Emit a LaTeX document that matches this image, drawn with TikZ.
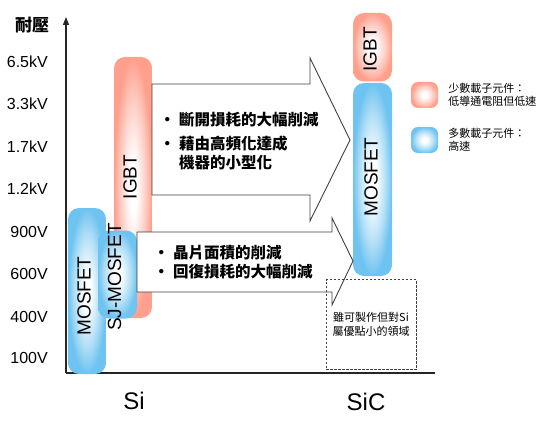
\documentclass[tikz,border=0pt]{standalone}
\usepackage{fontspec}
\setmainfont{Liberation Sans}
\newfontfamily\cjk{Noto Sans CJK TC}
\usetikzlibrary{arrows.meta,positioning}
\definecolor{igbtred}{HTML}{FF9F8C}
\definecolor{mosblue}{HTML}{6EC3F0}
\definecolor{edgegray}{HTML}{404040}
\pgfdeclareradialshading{redglow}{\pgfpointorigin}{color(0bp)=(white); color(5bp)=(white); color(17bp)=(igbtred!55!white); color(25bp)=(igbtred); color(50bp)=(igbtred)}
\pgfdeclareradialshading{blueglow}{\pgfpointorigin}{color(0bp)=(white); color(5bp)=(white); color(17bp)=(mosblue!55!white); color(25bp)=(mosblue); color(50bp)=(mosblue)}

\begin{document}
\begin{tikzpicture}[x=1pt, y=-1pt,
  bar/.style={rectangle, rounded corners=11pt, shading=#1, inner sep=0pt},
  devlbl/.style={rotate=90, inner sep=0pt, font=\fontsize{19}{19}\selectfont},
  ticklbl/.style={anchor=east, inner sep=0pt, font=\fontsize{16}{16}\selectfont},
  matlbl/.style={inner sep=0pt, font=\fontsize{24}{24}\selectfont},
  axisline/.style={black!85, line width=1.2pt},
  bigarr/.style={draw=edgegray, fill=white, line width=0.9pt, line join=miter},
  pts/.style={anchor=west, align=left, inner sep=0pt, font=\cjk\bfseries\fontsize{15.5}{19}\selectfont},
  legbox/.style={rectangle, rounded corners=7pt, shading=#1, minimum width=27pt, minimum height=26pt, inner sep=0pt},
  legtxt/.style={anchor=west, align=left, inner sep=0pt, font=\cjk\fontsize{11}{13.5}\selectfont},
  notebox/.style={draw=edgegray, dash pattern=on 2.5pt off 1.5pt, line width=0.7pt, minimum width=90pt, minimum height=90pt, align=center, inner sep=0pt, font=\cjk\fontsize{11}{14}\selectfont}
]
  \useasboundingbox (0,0) rectangle (553,430);

  % axes
  \coordinate (origin) at (66,373);
  \coordinate (ytop) at (66,17);
  \coordinate (xend) at (435,373);
  \draw[axisline, -{Triangle[length=8pt, width=6pt]}] (origin) -- (ytop);
  \draw[axisline] (origin) -- (xend);
  \node[inner sep=0pt, font=\cjk\bfseries\fontsize{17}{17}\selectfont] (ytitle) at (32,25) {耐壓};

  \node[ticklbl] (v65) at (48,62) {6.5kV};
  \node[ticklbl] (v33) at (48,104) {3.3kV};
  \node[ticklbl] (v17) at (48,147) {1.7kV};
  \node[ticklbl] (v12) at (48,189) {1.2kV};
  \node[ticklbl] (v900) at (48,232) {900V};
  \node[ticklbl] (v600) at (48,274) {600V};
  \node[ticklbl] (v400) at (48,317) {400V};
  \node[ticklbl] (v100) at (48,358) {100V};

  \node[matlbl] (si) at (134,401) {Si};
  \node[matlbl] (sic) at (366,402) {SiC};

  % Si devices
  \node[bar=redglow, minimum width=38pt, minimum height=261pt] (siIGBT) at (133,187.5) {};
  \node[bar=blueglow, minimum width=38pt, minimum height=166pt] (siMOS) at (87,291) {};
  \node[bar=blueglow, minimum width=39pt, minimum height=88pt] (siSJ) at (117.5,274.5) {};
  \node[devlbl] (siIGBTlbl) at (130,177) {IGBT};
  \node[devlbl] (siMOSlbl) at (84,296) {MOSFET};
  \node[devlbl] (siSJlbl) at (114.5,277) {SJ-MOSFET};

  % SiC devices
  \node[bar=redglow, minimum width=39pt, minimum height=68.5pt] (sicIGBT) at (372.5,47.25) {};
  \node[bar=blueglow, minimum width=39pt, minimum height=193pt] (sicMOS) at (372.5,179.5) {};
  \node[devlbl] (sicIGBTlbl) at (370,49.5) {IGBT};
  \node[devlbl] (sicMOSlbl) at (371,177) {MOSFET};

  % improvement arrows
  \draw[bigarr] (152,84) -- (310,84) -- (310,58) -- (350,140) -- (310,221) -- (310,195) -- (152,195) -- cycle;
  \draw[bigarr] (137,232) -- (332,232) -- (332,218) -- (353,261) -- (332,305) -- (332,292) -- (137,292) -- cycle;

  \node[pts] (hvpt1) at (179,120) {\llap{•\hspace{4pt}}斷開損耗的大幅削減};
  \node[pts] (hvpt2) at (179,152.5) {\llap{•\hspace{4pt}}藉由高頻化達成\\機器的小型化};
  \node[pts] (lvpt1) at (173,253) {\llap{•\hspace{4pt}}晶片面積的削減};
  \node[pts] (lvpt2) at (173,272) {\llap{•\hspace{4pt}}回復損耗的大幅削減};

  % region of small merit
  \node[notebox] (sicnote) at (371,324.5) {雖可製作但對Si\\屬優點小的領域};

  % legend
  \node[legbox=redglow] (legred) at (424.5,95) {};
  \node[legbox=blueglow] (legblue) at (424.5,140) {};
  \node[legtxt, right=10pt of legred] (legredtxt) {少數載子元件：\\低導通電阻但低速};
  \node[legtxt, right=10pt of legblue] (legbluetxt) {多數載子元件：\\高速};
\end{tikzpicture}
\end{document}
